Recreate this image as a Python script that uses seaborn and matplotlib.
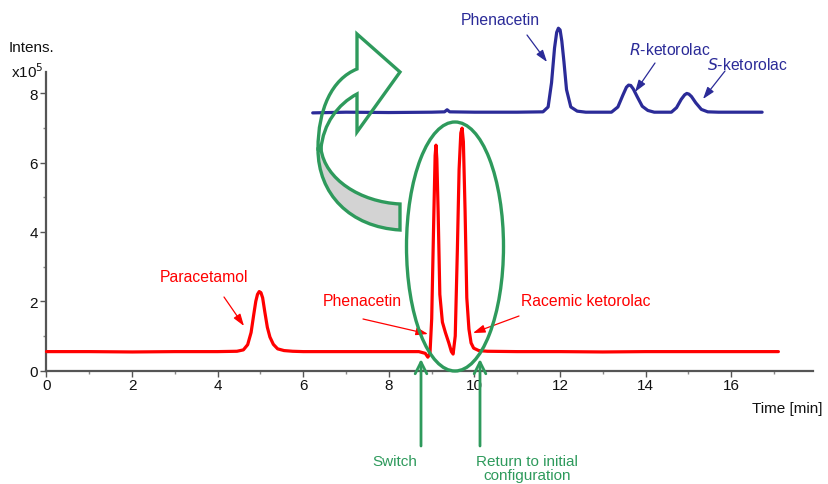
import numpy as np
import pandas as pd
import matplotlib
matplotlib.use("Agg")
import matplotlib.pyplot as plt
import seaborn as sns
from matplotlib.patches import Ellipse, PathPatch
from matplotlib.path import Path

# ---------------- data ----------------
red_time = [0.0, 1.0, 2.0, 3.0, 4.0, 4.45, 4.6, 4.7, 4.78, 4.84, 4.89, 4.93, 4.97, 5.01, 5.05,
            5.1, 5.16, 5.22, 5.3, 5.4, 5.55, 5.75, 6.0, 7.0, 8.0, 8.7, 8.85, 8.91, 8.96, 9.0,
            9.05, 9.08, 9.1, 9.12, 9.15, 9.19, 9.25, 9.32, 9.4, 9.46, 9.5, 9.55, 9.6, 9.64,
            9.68, 9.71, 9.74, 9.78, 9.82, 9.87, 9.92, 9.98, 10.1, 10.3, 11.0, 12.0, 13.0,
            14.0, 15.0, 16.0, 17.1]
red_int = [0.55, 0.55, 0.54, 0.55, 0.55, 0.56, 0.6, 0.75, 1.1, 1.6, 2.0, 2.2, 2.28, 2.25, 2.1,
           1.7, 1.25, 0.97, 0.76, 0.63, 0.58, 0.56, 0.55, 0.55, 0.55, 0.55, 0.5, 0.39, 0.5, 1.5,
           4.5, 6.2, 6.5, 6.1, 4.6, 2.2, 1.4, 1.1, 0.8, 0.55, 0.48, 1.0, 3.5, 5.8,
           6.85, 6.99, 6.6, 4.6, 2.1, 1.2, 0.8, 0.65, 0.58, 0.56, 0.55, 0.55, 0.54,
           0.55, 0.55, 0.55, 0.55]

blue_time = [6.22, 7.0, 8.0, 9.0, 9.3, 9.36, 9.42, 10.0, 11.0, 11.6, 11.72, 11.8, 11.87, 11.92,
             11.96, 12.0, 12.04, 12.09, 12.15, 12.25, 12.4, 12.6, 13.2, 13.35, 13.47, 13.55,
             13.6, 13.65, 13.71, 13.8, 13.92, 14.05, 14.2, 14.6, 14.72, 14.83, 14.91, 14.96,
             15.01, 15.07, 15.17, 15.3, 15.45, 15.7, 16.72]
blue_int = [7.43, 7.45, 7.44, 7.45, 7.46, 7.52, 7.46, 7.45, 7.45, 7.46, 7.6, 8.3, 9.3, 9.75,
            9.87, 9.82, 9.5, 8.9, 8.1, 7.6, 7.48, 7.45, 7.45, 7.6, 7.95, 8.17, 8.23, 8.22,
            8.12, 7.9, 7.62, 7.5, 7.45, 7.45, 7.58, 7.82, 7.95, 7.99, 7.97, 7.9, 7.72, 7.53,
            7.46, 7.45, 7.45]

x_ticks = [0, 2, 4, 6, 8, 10, 12, 14, 16]
y_ticks = [0, 2, 4, 6, 8]

RED = "#ff0000"
BLUE = "#2b2b98"
GREEN = "#2e9a5c"

# ---------------- figure ----------------
sns.set_theme(style="white")
plt.rcParams["font.family"] = ["Liberation Sans", "DejaVu Sans"]

fig = plt.figure(figsize=(8.29, 4.85), dpi=100)
ax = fig.add_axes([0, 0, 1, 1])
ax.set_facecolor("white")

X0, SX = 46.5, 42.8      # pixel of t=0, pixels per minute
Y0, SY = 371.7, 34.7     # pixel of I=0, pixels per 1e5
ax.set_xlim(-X0 / SX, (829 - X0) / SX)
ax.set_ylim((Y0 - 485) / SY, Y0 / SY)


def P(px, py):
    return ((px - X0) / SX, (Y0 - py) / SY)


red_df = pd.DataFrame({"t": red_time, "I": red_int})
blue_df = pd.DataFrame({"t": blue_time, "I": blue_int})
sns.lineplot(data=red_df, x="t", y="I", ax=ax, color=RED, lw=2.3, estimator=None, sort=False, zorder=4)
sns.lineplot(data=blue_df, x="t", y="I", ax=ax, color=BLUE, lw=2.3, estimator=None, sort=False, zorder=4)
ax.set_xlabel("")
ax.set_ylabel("")

# axes styling
for s in ["top", "right"]:
    ax.spines[s].set_visible(False)
ax.spines["left"].set_position(("data", 0))
ax.spines["bottom"].set_position(("data", 0))
ax.spines["left"].set_bounds(0, 8.6)
ax.spines["bottom"].set_bounds(0, 17.9)
for s in ["left", "bottom"]:
    ax.spines[s].set_color("#555555")
    ax.spines[s].set_linewidth(1.6)
ax.set_xticks(x_ticks)
ax.set_yticks(y_ticks)
ax.set_xticks([1, 3, 5, 7, 9, 11, 13, 15, 17], minor=True)
ax.set_yticks([1, 3, 5, 7], minor=True)
ax.tick_params(axis="both", which="major", direction="out", length=4, width=1, color="#555555",
               labelsize=11, labelcolor="#111111", bottom=True, left=True)
ax.tick_params(axis="both", which="minor", direction="out", length=2.5, width=1, color="#888888",
               bottom=True, left=True)
ax.tick_params(axis="x", pad=1.5)
ax.tick_params(axis="y", pad=2)
ax.grid(False)

# axis titles
ax.text(*P(31, 48), "Intens.", ha="center", va="center", fontsize=11, color="#111111")
ax.text(*P(27, 72), r"x10$^{5}$", ha="center", va="center", fontsize=11, color="#111111")
ax.text(*P(787, 409), "Time [min]", ha="center", va="center", fontsize=11, color="#111111")

# red annotations
akw = dict(arrowstyle="-|>,head_width=0.2,head_length=0.6", lw=0.9, shrinkA=0, shrinkB=0)
ax.annotate("", xy=P(244, 327), xytext=P(224, 298), arrowprops=dict(color=RED, **akw))
ax.text(*P(204, 277), "Paracetamol", ha="center", va="center", fontsize=11.3, color=RED)
ax.annotate("", xy=P(428, 335), xytext=P(363, 320), arrowprops=dict(color=RED, **akw))
ax.text(*P(362, 301), "Phenacetin", ha="center", va="center", fontsize=11.3, color=RED)
ax.annotate("", xy=P(473, 334), xytext=P(519, 317), arrowprops=dict(color=RED, **akw))
ax.text(*P(586, 301), "Racemic ketorolac", ha="center", va="center", fontsize=11.3, color=RED)

# blue annotations
ax.annotate("", xy=P(547, 63), xytext=P(527, 36), arrowprops=dict(color=BLUE, **akw))
ax.text(*P(500, 20), "Phenacetin", ha="center", va="center", fontsize=11.3, color=BLUE)
ax.annotate("", xy=P(635, 93), xytext=P(655, 64), arrowprops=dict(color=BLUE, **akw))
ax.text(*P(670, 50), r"$\it{R}$-ketorolac", ha="center", va="center", fontsize=11.3, color=BLUE)
ax.annotate("", xy=P(703, 100), xytext=P(725, 72), arrowprops=dict(color=BLUE, **akw))
ax.text(*P(747, 65), r"$\it{S}$-ketorolac", ha="center", va="center", fontsize=11.3, color=BLUE)

# green ellipse
cx, cy = P(455, 247.5)
ax.add_patch(Ellipse((cx, cy), 97 / SX, 249 / SY, fill=False, ec=GREEN, lw=2.4, zorder=5))

# green vertical arrows
gkw = dict(arrowstyle="->,head_width=0.35,head_length=0.7", lw=2.0, color=GREEN, shrinkA=0, shrinkB=0)
ax.annotate("", xy=P(421, 360), xytext=P(421, 447), arrowprops=gkw)
ax.annotate("", xy=P(480, 360), xytext=P(480, 447), arrowprops=gkw)
ax.text(*P(395, 462), "Switch", ha="center", va="center", fontsize=11, color=GREEN)
ax.text(*P(527, 455), "Return to initial\nconfiguration", ha="center", va="top", fontsize=11,
        color=GREEN, linespacing=1.0)

# big curved arrow (decoration)
C4 = Path.CURVE4
upper_pts = [(318, 150), (318, 110), (332, 80), (357, 70),
             (357, 35), (400, 73), (357, 133), (357, 95),
             (338, 105), (323, 125), (321, 150), (318, 150)]
upper_codes = [Path.MOVETO, C4, C4, C4, Path.LINETO, Path.LINETO, Path.LINETO, Path.LINETO,
               C4, C4, C4, Path.CLOSEPOLY]
lower_pts = [(318, 150), (318, 195), (350, 228), (400, 231), (400, 205),
             (360, 203), (325, 180), (321, 150), (318, 150)]
lower_codes = [Path.MOVETO, C4, C4, C4, Path.LINETO, C4, C4, C4, Path.CLOSEPOLY]
ax.add_patch(PathPatch(Path([P(*p) for p in upper_pts], upper_codes), fc="none", ec=GREEN,
                       lw=2.4, zorder=5, joinstyle="miter"))
ax.add_patch(PathPatch(Path([P(*p) for p in lower_pts], lower_codes), fc="#d3d3d3", ec=GREEN,
                       lw=2.4, zorder=5, joinstyle="miter"))

fig.savefig("out.png", dpi=100, facecolor="white")
